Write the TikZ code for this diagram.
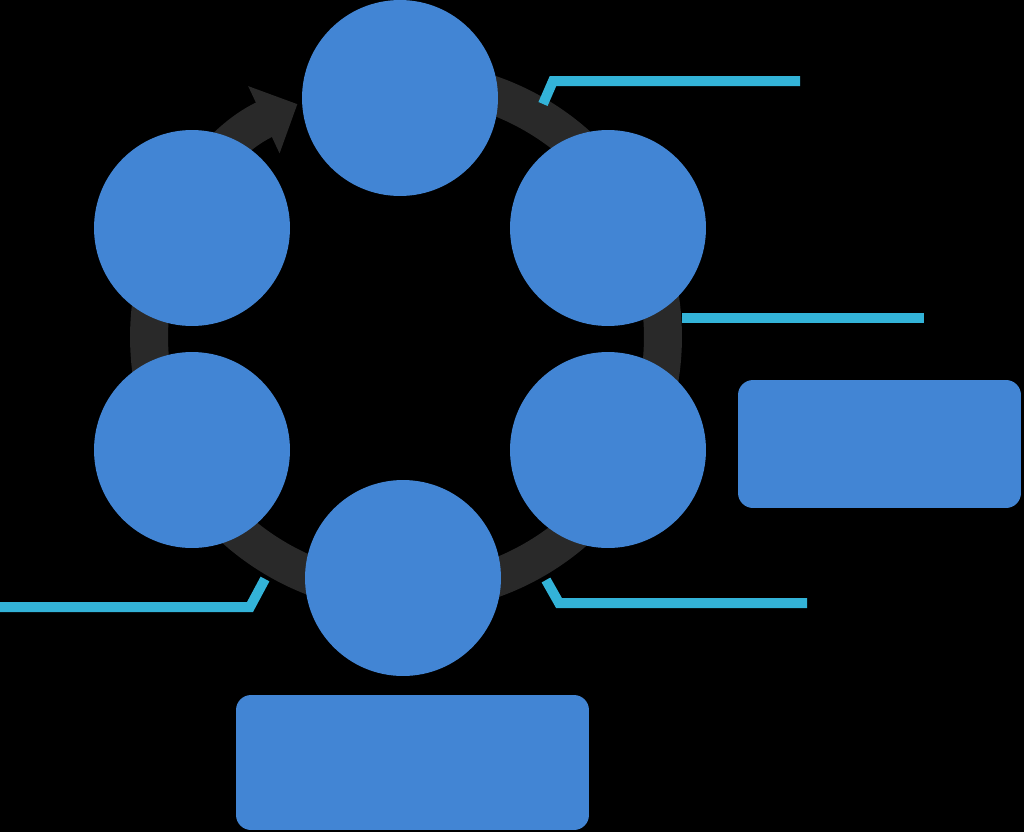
\documentclass[tikz,border=0pt]{standalone}
\usepackage{tikz}
\usetikzlibrary{arrows.meta, calc}

\definecolor{stageblue}{RGB}{66,133,212}
\definecolor{leadcyan}{RGB}{51,179,216}
\definecolor{ringgray}{RGB}{41,41,41}

\tikzset{
    stage/.style={circle, fill=stageblue, minimum size=3.92cm, inner sep=0pt},
    note/.style={rectangle, rounded corners=0.3cm, fill=stageblue, inner sep=0pt},
    ring/.style={draw=ringgray, line width=0.76cm},
    leader/.style={draw=leadcyan, line width=0.2cm, line cap=butt, line join=miter}
}

\begin{document}
\begin{tikzpicture}[x=0.02cm, y=-0.02cm]
        % canvas, 1024 x 832 px
        \fill[black] (0,0) rectangle (1024,832);
        \useasboundingbox (0,0) rectangle (1024,832);

        % cycle ring with arrow
        \coordinate (hub) at (406,337);
        \draw[ring, -{Triangle[width=1.44cm, length=0.74cm]}]
            ($(hub)+(90:5.14cm)$) arc[start angle=90, end angle=-245, radius=5.14cm];

        % six stages round the ring
        \node[stage] (top) at (400,98) {};
        \node[stage] (upright) at (608,228) {};
        \node[stage] (lowright) at (608,450) {};
        \node[stage] (bottom) at (403,578) {};
        \node[stage] (lowleft) at (192,450) {};
        \node[stage] (upleft) at (192,228) {};

        % leader lines
        \coordinate (la1) at (543,104);
        \coordinate (la2) at (553,81);
        \coordinate (la3) at (800,81);
        \draw[leader] (la1) -- (la2) -- (la3);

        \coordinate (lb1) at (682,318);
        \coordinate (lb2) at (924,318);
        \draw[leader] (lb1) -- (lb2);

        \coordinate (lc1) at (546,580);
        \coordinate (lc2) at (559,603);
        \coordinate (lc3) at (807,603);
        \draw[leader] (lc1) -- (lc2) -- (lc3);

        \coordinate (ld1) at (265,579);
        \coordinate (ld2) at (250,607);
        \coordinate (ld3) at (0,607);
        \draw[leader] (ld1) -- (ld2) -- (ld3);

        % note boxes
        \node[note, minimum width=5.66cm, minimum height=2.56cm] (sidenote) at (879.5,444) {};
        \node[note, minimum width=7.06cm, minimum height=2.7cm] (basenote) at (412.5,762.5) {};
    \end{tikzpicture}
\end{document}
